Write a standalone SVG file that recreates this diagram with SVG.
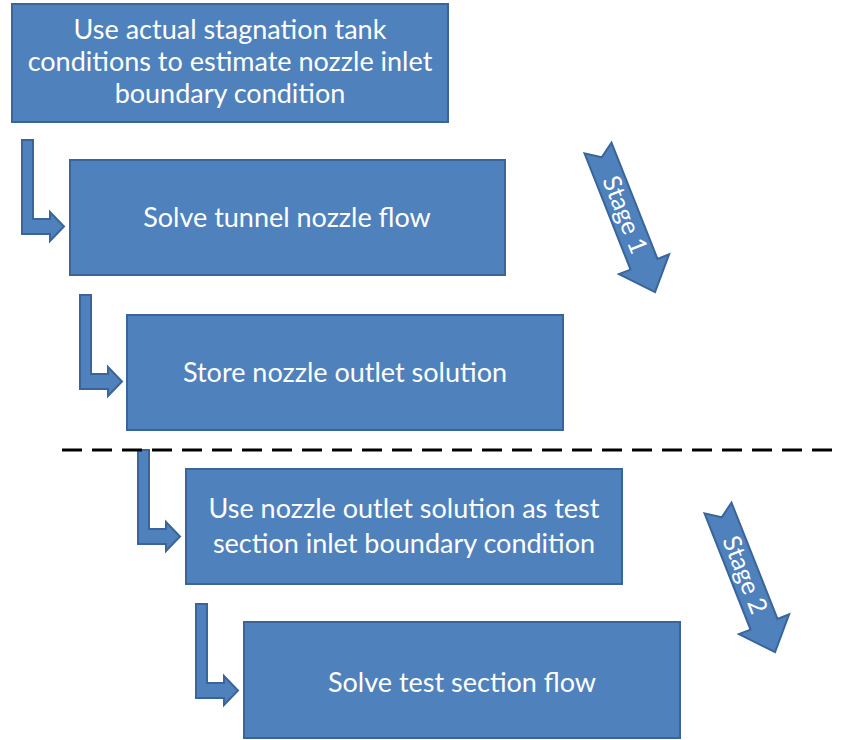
<svg xmlns="http://www.w3.org/2000/svg" width="844" height="740" viewBox="0 0 844 740">
<style>
.box{fill:#4f81bd;stroke:#3a659a;stroke-width:2}
.arr{fill:#4f81bd;stroke:#3a659a;stroke-width:2;stroke-linejoin:miter}
.t{font-family:Lato,"Open Sans",sans-serif;font-size:27px;fill:#ffffff;text-anchor:middle}
.st{font-family:Lato,"Open Sans",sans-serif;font-size:25px;fill:#ffffff;text-anchor:middle}
</style>
<defs>
<path id="bent" d="M0,0 h11 v79 h17 v-7 l14,14.5 l-14,14.5 v-7 h-28 z"/>
<polygon id="stage" points="0,-14.5 125,-14.5 125,-27 155,0 125,27 125,14.5 0,14.5 10,0"/>
</defs>
<rect width="844" height="740" fill="#ffffff"/>
<g id="n1"><rect class="box" x="12" y="4" width="436" height="118"/>
<text class="t" x="230" y="39">Use actual stagnation tank</text>
<text class="t" x="230" y="71">conditions to estimate nozzle inlet</text>
<text class="t" x="230" y="103">boundary condition</text></g>
<g id="n2"><rect class="box" x="70" y="160" width="435" height="115"/>
<text class="t" x="287" y="227">Solve tunnel nozzle flow</text></g>
<g id="n3"><rect class="box" x="127" y="315" width="436" height="115"/>
<text class="t" x="345" y="382">Store nozzle outlet solution</text></g>
<g id="n4"><rect class="box" x="186" y="469" width="436" height="115"/>
<text class="t" x="404" y="518">Use nozzle outlet solution as test</text>
<text class="t" x="404" y="553">section inlet boundary condition</text></g>
<g id="n5"><rect class="box" x="244" y="622" width="436" height="116"/>
<text class="t" x="462" y="692">Solve test section flow</text></g>
<g id="connectors">
<use href="#bent" class="arr" x="22" y="140"/>
<use href="#bent" class="arr" x="80" y="295"/>
<use href="#bent" class="arr" x="138" y="450"/>
<use href="#bent" class="arr" x="196" y="604"/>
<line x1="62" y1="450" x2="838" y2="450" stroke="#000" stroke-width="3" stroke-dasharray="20,10"/>
</g>
<g id="stage1" transform="translate(598,148) rotate(68.4)">
<use href="#stage" class="arr"/>
<text class="st" x="72" y="8">Stage 1</text></g>
<g id="stage2" transform="translate(718,508) rotate(68.4)">
<use href="#stage" class="arr"/>
<text class="st" x="72" y="8">Stage 2</text></g>
</svg>
